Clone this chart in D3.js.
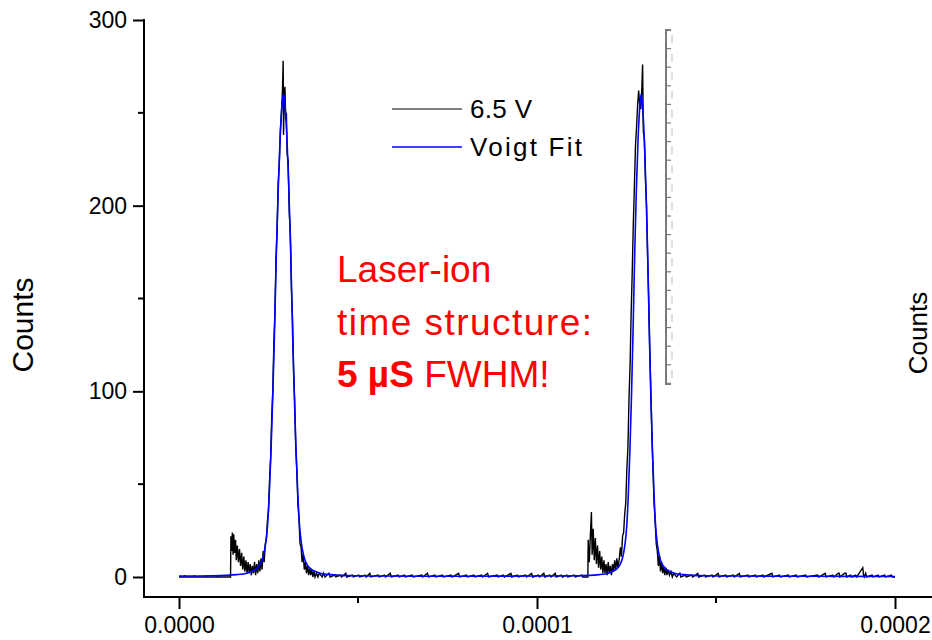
<!DOCTYPE html>
<html lang="en">

<head>
    <meta charset="utf-8">
    <title>Laser-ion time structure</title>
    <style type="text/css">
        body {
            margin: 0;
            background: #fff;
        }

        text {
            font-family: 'Liberation Sans', Arial, sans-serif;
        }
    </style>
    <script type="text/javascript" src="https://cdn.jsdelivr.net/npm/d3@7"></script>
</head>

<body>
    <script type="text/javascript">
        /* DATA (time in microseconds, counts) */

        var xTicks = [0, 0.0001, 0.0002];
        var xMinorTicks = [0.00005, 0.00015];
        var yTicks = [0, 100, 200, 300];
        var yMinorTicks = [50, 150, 250];

        var seriesNames = ["6.5 V", "Voigt Fit"];

        // measured counts, 6.5 V
        var scanT = [
            0, 1.5, 1.6, 1.7, 4.2, 4.3, 4.4, 7.9, 8.0, 8.1, 10.6, 10.7, 10.8, 14.4,
            14.5, 14.7, 14.9, 15.1, 15.3, 15.5, 15.8, 16.0, 16.3, 16.6, 16.9, 17.2, 17.5, 17.8, 18.1, 18.4,
            18.7, 19.0, 19.3, 19.6, 19.9, 20.2, 20.5, 20.8, 21.1, 21.4, 21.7, 22.0, 22.3, 22.6, 22.9,
            23.2, 23.5, 23.8, 24.1, 24.4, 24.7, 25.0, 25.3, 25.6, 25.9, 26.2, 26.5, 26.8, 27.1, 27.4,
            27.7, 28.0, 28.3, 28.6, 28.9, 29.1, 29.2, 29.4, 29.6, 29.8, 30.0, 30.2, 30.5, 30.8, 31.1,
            31.4, 31.7, 32.0, 32.3, 32.6, 32.9, 33.2, 33.5, 33.8, 34.1, 34.4, 34.7, 35.0, 35.3, 35.6,
            35.9, 36.2, 36.5, 36.8, 37.1, 37.4, 37.7, 38.0, 38.4, 38.8, 39.2, 39.6, 40.0, 40.4, 40.8,
            41.9, 42.2, 43.5, 43.8, 45.1, 45.4, 46.6, 46.9, 48.4, 48.7, 50.2, 50.5, 52.0, 52.3, 53.3,
            53.6, 55.6, 55.9, 57.4, 57.7, 59.0, 59.3, 61.2, 61.5, 63.0, 63.3, 65.1, 65.4, 67.8, 68.1,
            69.4, 69.7, 71.5, 71.8, 73.6, 73.9, 76.0, 76.3, 78.1, 78.4, 80.3, 80.6, 82.4, 82.7, 84.5,
            84.8, 86.2, 86.5, 88.9, 89.2, 90.6, 90.9, 92.7, 93.0, 94.5, 94.8, 96.8, 97.1, 98.5, 98.8,
            100.4, 100.7, 101.9, 102.2, 103.6, 103.9, 105.1, 105.4, 106.8, 107.1, 108.3, 108.6, 110.4, 110.7, 112.5,
            112.8, 114.2, 114.3, 114.6, 114.9, 115.2, 115.4, 115.7, 116.0, 116.3, 116.6, 116.9, 117.2, 117.5, 117.8,
            118.1, 118.4, 118.7, 119.0, 119.3, 119.6, 119.9, 120.2, 120.5, 120.8, 121.1, 121.4, 121.7, 122.0, 122.3,
            122.6, 123.0, 123.3, 123.6, 123.9, 124.2, 124.5, 124.8, 125.1, 125.4, 125.7, 126.0, 126.3, 126.6, 126.9,
            127.2, 127.5, 127.8, 128.1, 128.4, 128.7, 129.0, 129.3, 129.5, 129.7, 130.0, 130.3, 130.6, 130.9, 131.2,
            131.5, 131.8, 132.1, 132.4, 132.7, 133.0, 133.3, 133.6, 133.9, 134.2, 134.5, 134.8, 135.1, 135.4, 135.7,
            136.0, 136.3, 136.6, 137.0, 137.4, 137.8, 138.2, 138.6, 139.0, 139.9, 140.2, 141.4, 141.7, 143.2, 143.5,
            144.9, 145.2, 146.8, 147.1, 148.9, 149.2, 150.6, 150.9, 152.7, 153.0, 154.8, 155.1, 156.5, 156.8, 158.9,
            159.2, 161.0, 161.3, 163.1, 163.4, 165.6, 165.9, 167.7, 168.0, 170.2, 170.5, 172.4, 172.7, 175.0, 175.3,
            178.4, 178.7, 180.5, 180.8, 182.6, 182.9, 184.2, 184.4, 184.6, 185.9, 186.3, 186.5, 187.6, 187.9, 189.0,
            189.3, 191.0, 191.2, 191.4, 191.8, 192.1, 193.6, 193.9, 195.3, 195.6, 197.1, 197.4, 199.0, 199.3, 200
        ];
        var scanN = [
            0, 0, 1, 0, 0, 1, 0, 0, 1, 0, 0, 1, 0, 0,
            22, 14, 24, 12, 23, 13, 20, 9, 17, 8, 15, 6, 13, 4, 11, 3,
            9, 2, 8, 2, 7, 1, 6, 2, 8, 1, 7, 2, 9, 3, 10,
            4, 14, 8, 18, 20, 30, 36, 52, 64, 86, 100, 126, 142, 172, 186,
            212, 222, 240, 250, 262, 278, 238, 262, 264, 246, 250, 228, 224, 196, 186,
            156, 140, 112, 96, 70, 58, 40, 32, 18, 16, 8, 12, 4, 8, 2,
            6, 1, 5, 1, 4, 0, 3, 0, 2, 0, 2, 1, 0, 2, 0,
            2, 0, 1, 0, 1, 0, 2, 0, 1, 0, 1, 0, 1, 0, 2,
            0, 1, 0, 1, 0, 2, 0, 1, 0, 1, 0, 1, 0, 1, 0,
            2, 0, 1, 0, 1, 0, 1, 0, 2, 0, 1, 0, 1, 0, 1,
            0, 2, 0, 1, 0, 1, 0, 2, 0, 1, 0, 1, 0, 2, 0,
            1, 0, 2, 0, 1, 0, 2, 0, 1, 0, 1, 0, 1, 0, 1,
            0, 0, 20, 8, 22, 35, 12, 26, 9, 21, 7, 17, 5, 14, 4,
            11, 2, 9, 2, 7, 1, 8, 2, 6, 1, 7, 3, 9, 4, 10,
            5, 10, 16, 11, 22, 24, 34, 40, 58, 70, 96, 114, 142, 164, 190,
            210, 232, 242, 254, 262, 254, 252, 264, 276, 240, 236, 214, 200, 172, 150,
            122, 100, 76, 58, 40, 30, 18, 14, 6, 12, 3, 8, 2, 6, 1,
            5, 1, 4, 1, 3, 0, 2, 1, 0, 2, 0, 1, 0, 1, 0,
            2, 0, 1, 0, 1, 0, 2, 0, 1, 0, 1, 0, 2, 0, 1,
            0, 1, 0, 1, 0, 2, 0, 1, 0, 1, 0, 1, 0, 1, 0,
            1, 0, 2, 0, 1, 0, 2, 2, 0, 2, 2, 0, 1, 0, 1,
            0, 5, 1, 0, 2, 0, 1, 0, 1, 0, 1, 0, 1, 0, 0
        ];

        // Voigt fit curve
        var fitT = [
            0, 9.2, 16.2, 19.2, 21.2, 22.2, 23.2, 23.7, 24.2, 24.7, 25.2, 25.7, 26.2, 26.65, 27.2,
            27.7, 28.2, 28.7, 29.2, 29.7, 30.2, 30.7, 31.2, 31.75, 32.2, 32.7, 33.2, 33.7, 34.2, 34.7,
            35.2, 36.2, 37.2, 39.2, 42.2, 49.2, 58.2, 79, 100, 111.1, 117.4, 120.1, 121.9, 122.8, 123.7,
            124.15, 124.6, 125.05, 125.5, 125.95, 126.4, 126.8, 127.3, 127.75, 128.2, 128.65, 129.1, 129.55, 130.0, 130.45,
            130.9, 131.4, 131.8, 132.25, 132.7, 133.15, 133.6, 134.05, 134.5, 135.4, 136.3, 138.1, 140.8, 147.1, 156.1,
            175, 200
        ];
        var fitN = [
            0.5, 0.7, 1.3, 2.2, 3.8, 5.5, 9, 12.5, 18, 27, 44, 68, 98, 130, 175,
            208, 234, 252, 260, 252, 234, 208, 175, 130, 98, 68, 44, 27, 18, 12.5,
            9, 5.5, 3.8, 2.2, 1.3, 0.7, 0.5, 0.4, 0.5, 0.7, 1.3, 2.2, 3.8, 5.5, 9,
            12.5, 18, 27, 44, 68, 98, 130, 175, 208, 234, 252, 260, 252, 234, 208,
            175, 130, 98, 68, 44, 27, 18, 12.5, 9, 5.5, 3.8, 2.2, 1.3, 0.7, 0.5,
            0.4, 0.3
        ];

        /* SETUP */

        var svgW = 932;
        var svgH = 640;
        var svg = d3.select("body").append("svg")
            .attr("width", svgW)
            .attr("height", svgH);

        var axisX = 144;
        var axisY = 597;

        var x = d3.scaleLinear().domain([0, 0.0002]).range([179, 895]);
        var y = d3.scaleLinear().domain([0, 300]).range([577, 20]);

        /* AXES */

        var yAxis = d3.axisLeft(y)
            .tickValues(yTicks)
            .tickSize(11)
            .tickPadding(6)
            .tickFormat(d3.format("d"));

        var gy = svg.append("g")
            .attr("transform", "translate(" + axisX + ",0)")
            .call(yAxis);
        gy.select(".domain").remove();
        gy.selectAll("text").attr("font-size", 23).attr("fill", "#000");
        gy.selectAll("line").attr("stroke", "#000").attr("stroke-width", 2);
        gy.selectAll(".minor").data(yMinorTicks).enter().append("line")
            .attr("class", "minor")
            .attr("x1", -6).attr("x2", 0)
            .attr("y1", function (d) { return y(d); })
            .attr("y2", function (d) { return y(d); })
            .attr("stroke", "#000").attr("stroke-width", 2);
        gy.append("line")
            .attr("x1", 0).attr("x2", 0)
            .attr("y1", y(300) - 1).attr("y2", axisY + 1)
            .attr("stroke", "#000").attr("stroke-width", 2);

        var xAxis = d3.axisBottom(x)
            .tickValues(xTicks)
            .tickSize(12)
            .tickPadding(8)
            .tickFormat(d3.format(".4f"));

        var gx = svg.append("g")
            .attr("transform", "translate(0," + axisY + ")")
            .call(xAxis);
        gx.select(".domain").remove();
        gx.selectAll("text").attr("font-size", 23).attr("fill", "#000");
        gx.selectAll("line").attr("stroke", "#000").attr("stroke-width", 2);
        gx.selectAll(".minor").data(xMinorTicks).enter().append("line")
            .attr("class", "minor")
            .attr("y1", 0).attr("y2", 6)
            .attr("x1", function (d) { return x(d); })
            .attr("x2", function (d) { return x(d); })
            .attr("stroke", "#000").attr("stroke-width", 2);
        gx.append("line")
            .attr("x1", axisX - 1).attr("x2", svgW)
            .attr("y1", 0).attr("y2", 0)
            .attr("stroke", "#000").attr("stroke-width", 2);

        svg.append("text")
            .text("Counts")
            .attr("font-size", 30)
            .attr("text-anchor", "middle")
            .attr("transform", "translate(33,325) rotate(-90)");

        svg.append("text")
            .text("Counts")
            .attr("font-size", 26)
            .attr("text-anchor", "middle")
            .attr("transform", "translate(927,333) rotate(-90)");

        /* GHOST AXIS (leftover of a hidden layer) */

        var ghost = svg.append("g").attr("stroke", "#7a7a7a");
        ghost.append("path")
            .attr("fill", "none")
            .attr("stroke-width", 2)
            .attr("d", "M671,30H666V384H671");
        ghost.selectAll(".gt").data(d3.range(30, 384, 18.6)).enter().append("line")
            .attr("x1", 666).attr("x2", 671)
            .attr("y1", function (d) { return d; })
            .attr("y2", function (d) { return d; })
            .attr("stroke-width", 1.2);
        ghost.selectAll(".gd").data(d3.range(35, 380, 18.6)).enter().append("line")
            .attr("x1", 672).attr("x2", 672)
            .attr("y1", function (d) { return d; })
            .attr("y2", function (d) { return d + 8; })
            .attr("stroke", "#c8c8c8")
            .attr("stroke-width", 1.2);

        /* LINES */

        var scan = scanT.map(function (t, i) { return [t * 1e-6, scanN[i]]; });
        var fit = fitT.map(function (t, i) { return [t * 1e-6, fitN[i]]; });

        var line = d3.line()
            .x(function (d) { return x(d[0]); })
            .y(function (d) { return y(d[1]); });

        svg.append("path")
            .datum(scan)
            .attr("fill", "none")
            .attr("stroke", "#000")
            .attr("stroke-width", 1.4)
            .attr("d", line);

        svg.append("path")
            .datum(fit)
            .attr("fill", "none")
            .attr("stroke", "#0000ff")
            .attr("stroke-width", 1.6)
            .attr("d", line.curve(d3.curveMonotoneX));

        /* LEGEND */

        var legendColors = ["#000", "#0000ff"];
        var legendWidths = [62, 112];
        var lg = svg.append("g");
        seriesNames.forEach(function (name, i) {
            var ly = 109 + i * 38;
            lg.append("line")
                .attr("x1", 392).attr("x2", 462)
                .attr("y1", ly).attr("y2", ly)
                .attr("stroke", legendColors[i])
                .attr("stroke-width", i == 0 ? 1.1 : 1.6);
            lg.append("text")
                .text(name)
                .attr("x", 470)
                .attr("y", ly + 9)
                .attr("font-size", 26)
                .attr("fill", "#000")
                .attr("textLength", legendWidths[i])
                .attr("lengthAdjust", "spacing");
        });

        /* ANNOTATION */

        var note = svg.append("g").attr("fill", "#ff0000");
        note.append("text")
            .text("Laser-ion")
            .attr("x", 337).attr("y", 282)
            .attr("font-size", 37);
        note.append("text")
            .text("time structure:")
            .attr("x", 337).attr("y", 335)
            .attr("font-size", 37)
            .attr("textLength", 255)
            .attr("lengthAdjust", "spacing");
        var t3 = note.append("text")
            .attr("x", 337).attr("y", 387)
            .attr("font-size", 37);
        t3.append("tspan").attr("font-weight", "bold").text("5 µS");
        t3.append("tspan").text(" FWHM!");
    </script>
</body>

</html>
